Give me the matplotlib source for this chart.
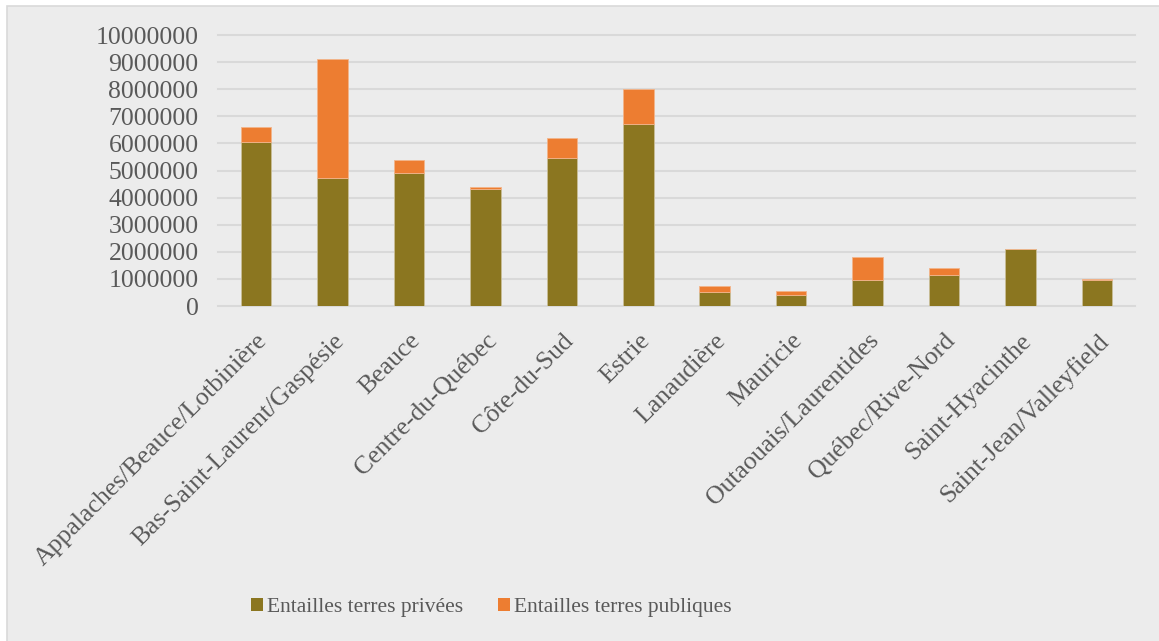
import numpy as np
import matplotlib
matplotlib.use('Agg')
from matplotlib import pyplot as plt
from matplotlib.patches import Rectangle, Patch

# data
regions = ['Appalaches/Beauce/Lotbinière', 'Bas-Saint-Laurent/Gaspésie', 'Beauce',
           'Centre-du-Québec', 'Côte-du-Sud', 'Estrie', 'Lanaudière', 'Mauricie',
           'Outaouais/Laurentides', 'Québec/Rive-Nord', 'Saint-Hyacinthe',
           'Saint-Jean/Valleyfield']
privees = [6060000, 4740000, 4900000, 4330000, 5450000, 6730000,
           530000, 410000, 970000, 1150000, 2090000, 970000]
publiques = [550000, 4370000, 470000, 50000, 740000, 1270000,
             210000, 140000, 830000, 260000, 0, 30000]
yticks = np.arange(0, 10000001, 1000000)

c_priv = '#8B7620'
c_pub = '#ED7D31'
txt = '#595959'
font = 'Liberation Serif'

fig = plt.figure(figsize=(11.59, 6.41), dpi=100)
fig.patch.set_facecolor('white')
fig.patches.append(Rectangle((7 / 1159, -5 / 641), 1160 / 1159, 640 / 641,
                             transform=fig.transFigure, facecolor='#ECECEC',
                             edgecolor='#D9D9D9', linewidth=1.2, zorder=-10))

ax = fig.add_axes([218 / 1159, 1 - 306 / 641, 917 / 1159, 271 / 641])
ax.set_facecolor('none')

x = np.arange(len(regions))
ax.bar(x, privees, width=0.4, color=c_priv, edgecolor='#C9BE98', linewidth=0.6, zorder=3)
ax.bar(x, publiques, width=0.4, bottom=privees, color=c_pub, edgecolor='#F2B48A',
       linewidth=0.6, zorder=3)

ax.set_xlim(-0.5, len(regions) - 0.5)
ax.set_ylim(0, 10000000)
ax.set_yticks(yticks)
ax.set_yticklabels([str(v) for v in yticks], fontsize=18.5, color=txt, family=font)
ax.yaxis.grid(True, color='#D9D9D9', linewidth=1.5, zorder=0)
for gl in ax.get_ygridlines():
    gl.set_clip_on(False)
ax.tick_params(axis='y', length=0, pad=14)
ax.tick_params(axis='x', length=0, pad=17)
ax.set_xticks(x)
ax.set_xticklabels(regions, rotation=45, ha='right', va='top', rotation_mode='anchor',
                   fontsize=18.5, color=txt, family=font)
for s in ax.spines.values():
    s.set_visible(False)

handles = [Patch(facecolor=c_priv, label='Entailles terres privées'),
           Patch(facecolor=c_pub, label='Entailles terres publiques')]
leg = fig.legend(handles=handles, loc='center', bbox_to_anchor=(0.424, 0.052), ncol=2,
                 frameon=False, handlelength=0.55, handleheight=0.55, handletextpad=0.2,
                 columnspacing=1.6, prop={'family': font, 'size': 15.5})
for t in leg.get_texts():
    t.set_color(txt)

fig.savefig('out.png', dpi=100, facecolor=fig.get_facecolor())
